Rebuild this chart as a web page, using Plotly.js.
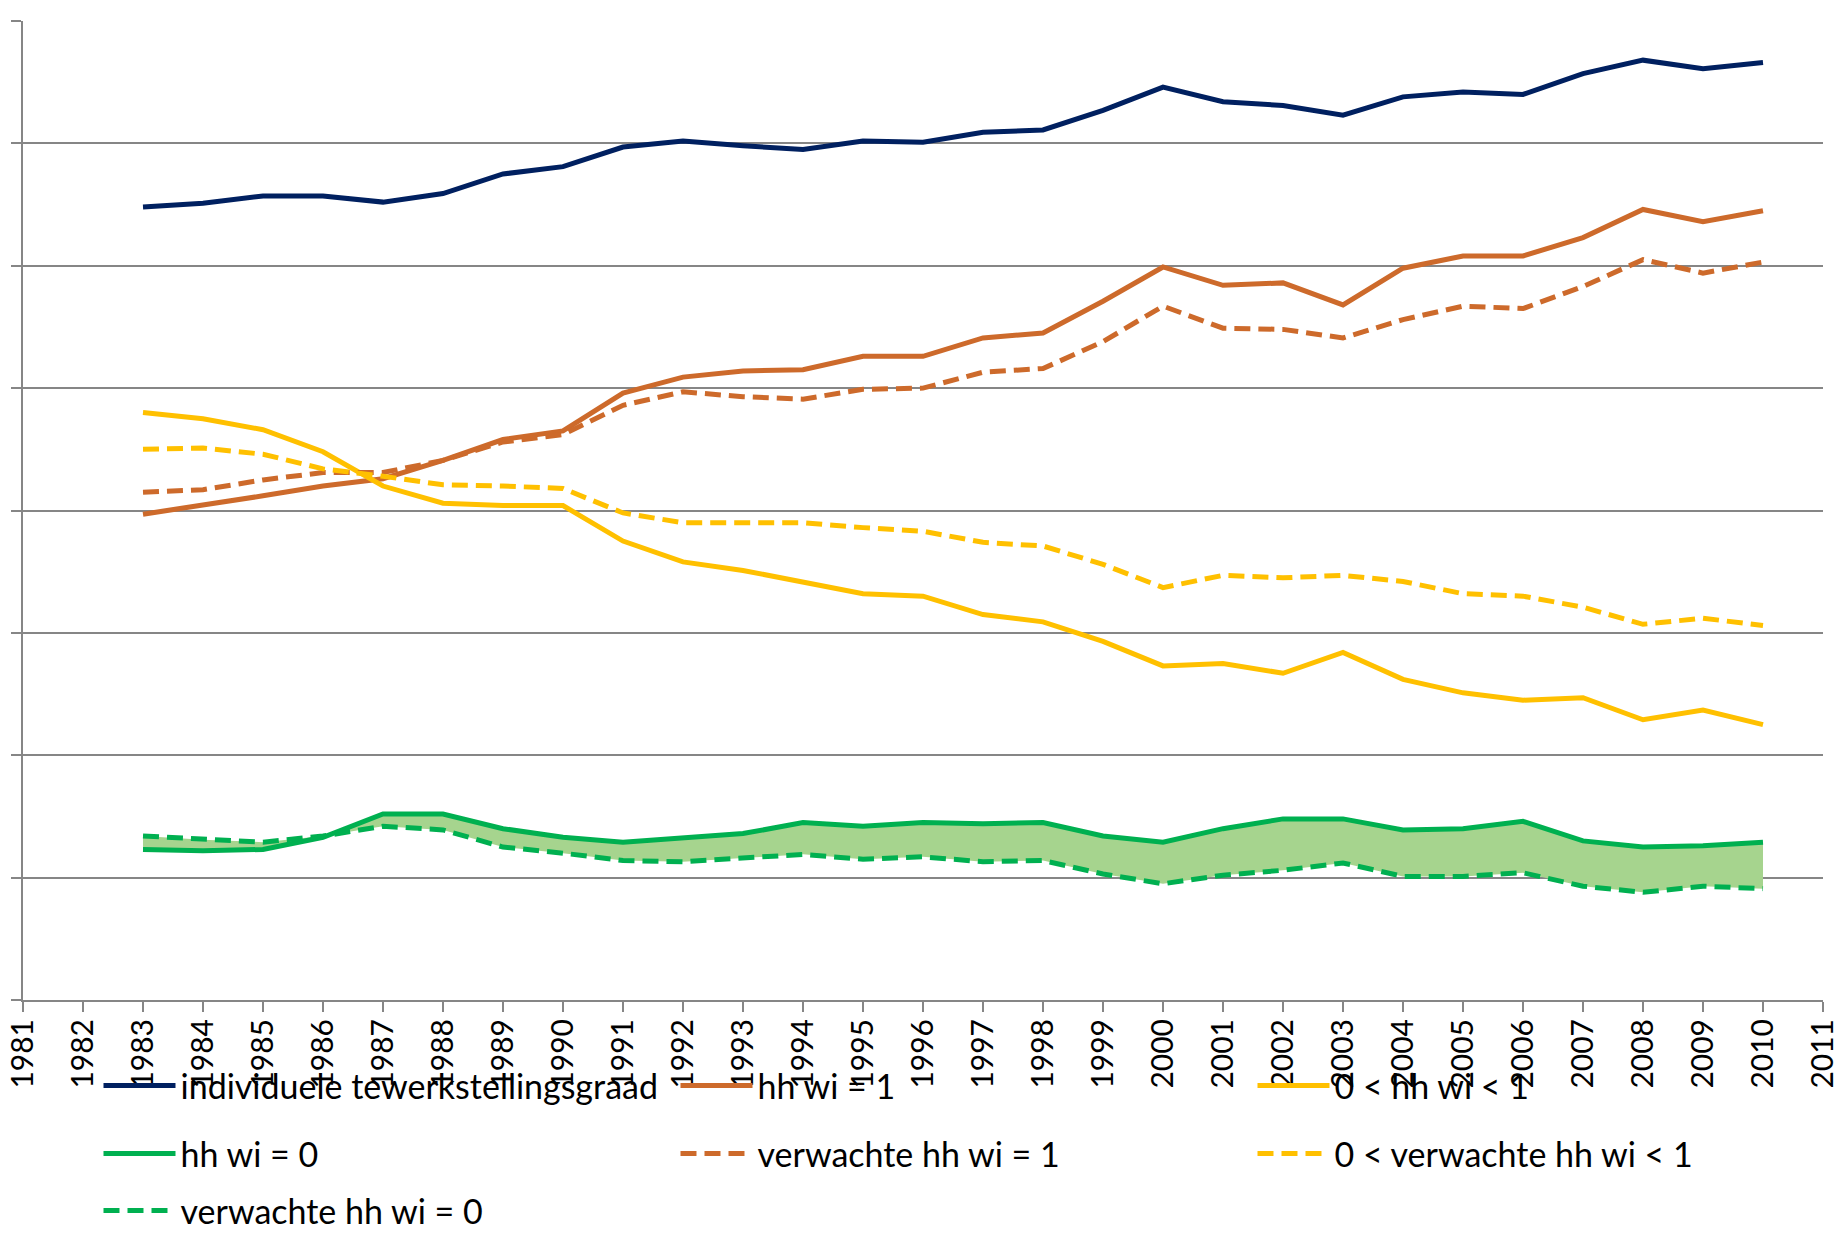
<!DOCTYPE html>
<html>
<head>
<meta charset="utf-8">
<script src="https://cdn.plot.ly/plotly-3.0.1.min.js"></script>
<style>html,body{margin:0;padding:0;background:#fff}#chart{width:1841px;height:1236px}</style>
</head>
<body>
<div id="chart"></div>
<script>
const years = [1983,1984,1985,1986,1987,1988,1989,1990,1991,1992,1993,1994,1995,1996,1997,1998,1999,2000,2001,2002,2003,2004,2005,2006,2007,2008,2009,2010];
const xTickYears = [1981,1982,1983,1984,1985,1986,1987,1988,1989,1990,1991,1992,1993,1994,1995,1996,1997,1998,1999,2000,2001,2002,2003,2004,2005,2006,2007,2008,2009,2010,2011];

const individueleTewerkstellingsgraad = [64.8,65.1,65.7,65.7,65.2,65.9,67.5,68.1,69.7,70.2,69.8,69.5,70.2,70.1,70.9,71.1,72.7,74.6,73.4,73.1,72.3,73.8,74.2,74.0,75.7,76.8,76.1,76.6];
const hhWi1 = [39.7,40.4,41.2,42.0,42.6,44.1,45.8,46.5,49.6,50.9,51.4,51.5,52.6,52.6,54.1,54.5,57.1,59.9,58.4,58.6,56.8,59.8,60.8,60.8,62.3,64.6,63.6,64.5];
const hhWiTussen = [48.0,47.5,46.6,44.8,42.0,40.6,40.4,40.4,37.5,35.8,35.1,34.1,33.2,33.0,31.5,30.9,29.3,27.3,27.5,26.7,28.4,26.2,25.1,24.5,24.7,22.9,23.7,22.5];
const hhWi0 = [12.3,12.2,12.3,13.3,15.2,15.2,14.0,13.3,12.9,13.2,13.6,14.5,14.2,14.5,14.4,14.5,13.4,12.9,14.0,14.8,14.8,13.9,14.0,14.6,13.0,12.5,12.6,12.9];
const verwachteHhWi1 = [41.5,41.7,42.5,43.1,43.1,44.1,45.6,46.2,48.6,49.7,49.3,49.1,49.9,50.0,51.3,51.6,53.8,56.7,54.9,54.8,54.1,55.6,56.7,56.5,58.3,60.5,59.4,60.3];
const verwachteHhWiTussen = [45.0,45.1,44.6,43.4,42.8,42.1,42.0,41.8,39.8,39.0,39.0,39.0,38.6,38.3,37.4,37.1,35.6,33.7,34.7,34.5,34.7,34.2,33.2,33.0,32.1,30.7,31.2,30.6];
const verwachteHhWi0 = [13.4,13.1,12.9,13.4,14.2,13.9,12.5,12.0,11.4,11.3,11.6,11.9,11.5,11.7,11.3,11.4,10.3,9.5,10.2,10.6,11.2,10.1,10.1,10.4,9.3,8.8,9.3,9.1];

const names = ['individuele tewerkstellingsgraad','hh wi = 1','0 < hh wi < 1','hh wi = 0','verwachte hh wi = 1','0 < verwachte hh wi < 1','verwachte hh wi = 0'];

const NAVY = '#002060', ORANGE = '#CD6A2B', GOLD = '#FFC000', GREEN = '#00B050', FILL = '#A6D48E';
const LW = 5;
const DASH = '16px,8px';

function line(y, name, color, dash, legend) {
  return {x: years, y: y, name: name, type: 'scatter', mode: 'lines',
    line: {color: color, width: LW, dash: dash || 'solid'}, legend: legend, hoverinfo: 'x+y+name'};
}

const data = [
  {x: years, y: verwachteHhWi0, type: 'scatter', mode: 'lines', line: {width: 0, color: FILL}, showlegend: false, hoverinfo: 'skip'},
  {x: years, y: hhWi0, type: 'scatter', mode: 'lines', fill: 'tonexty', fillcolor: FILL, line: {width: 0, color: FILL}, showlegend: false, hoverinfo: 'skip'},
  line(individueleTewerkstellingsgraad, names[0], NAVY, null, 'legend'),
  line(hhWi1, names[1], ORANGE, null, 'legend'),
  line(hhWiTussen, names[2], GOLD, null, 'legend'),
  line(hhWi0, names[3], GREEN, null, 'legend2'),
  line(verwachteHhWi1, names[4], ORANGE, DASH, 'legend2'),
  line(verwachteHhWiTussen, names[5], GOLD, DASH, 'legend2'),
  line(verwachteHhWi0, names[6], GREEN, DASH, 'legend3')
];

const legendBase = {
  orientation: 'h', xref: 'container', yref: 'container', xanchor: 'left', yanchor: 'middle',
  x: 0.0535, font: {family: 'Lato, sans-serif', size: 34, color: '#000'},
  bgcolor: 'rgba(0,0,0,0)', itemwidth: 72, entrywidth: 490, entrywidthmode: 'pixels',
  traceorder: 'normal', itemclick: false, itemdoubleclick: false
};

const layout = {
  width: 1841, height: 1236,
  margin: {l: 23, r: 18, t: 21, b: 236, autoexpand: false},
  paper_bgcolor: '#fff', plot_bgcolor: '#fff',
  font: {family: 'Lato, sans-serif', size: 29, color: '#000'},
  xaxis: {
    type: 'linear', range: [1981, 2011], tickmode: 'array', tickvals: xTickYears,
    ticktext: xTickYears.map(String), tickangle: -90,
    ticks: 'outside', ticklen: 10, tickwidth: 2, tickcolor: '#868686',
    showline: true, linecolor: '#868686', linewidth: 2, showgrid: false, zeroline: false,
    ticklabelstandoff: -5,
    tickfont: {family: 'Lato, sans-serif', size: 30, color: '#000'}
  },
  yaxis: {
    range: [0, 80], dtick: 10, tick0: 0, showticklabels: false,
    ticks: 'outside', ticklen: 10, tickwidth: 2, tickcolor: '#868686',
    showline: true, linecolor: '#868686', linewidth: 2,
    showgrid: true, gridcolor: '#868686', gridwidth: 2, zeroline: false
  },
  showlegend: true,
  legend: Object.assign({}, legendBase, {y: 1 - 1086/1236}),
  legend2: Object.assign({}, legendBase, {y: 1 - 1154/1236}),
  legend3: Object.assign({}, legendBase, {y: 1 - 1211/1236})
};

Plotly.newPlot('chart', data, layout, {displayModeBar: false, staticPlot: true});
</script>
</body>
</html>
